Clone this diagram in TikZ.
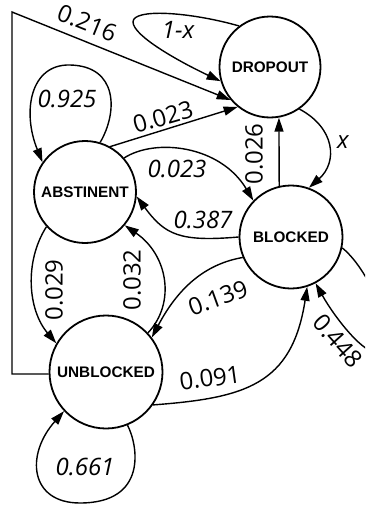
\documentclass[tikz,border=0pt]{standalone}
\usepackage{fontspec}
\setmainfont{Open Sans}
\newfontfamily\statefont{Liberation Sans}
\usetikzlibrary{arrows.meta}
\begin{document}
\begin{tikzpicture}[x=1pt,y=-1pt,
  state/.style={circle,draw,line width=1.8pt,inner sep=0pt,font=\statefont\bfseries\fontsize{15.3}{18}\selectfont},
  edge/.style={line width=1.4pt,-{Triangle[length=14pt,width=9pt]}},
  lbl/.style={font=\fontsize{24}{28}\selectfont\itshape,inner sep=0pt},
  rlbl/.style={font=\fontsize{24}{28}\selectfont,inner sep=0pt}]
\clip (0,0) rectangle (365,506);
\node[state,minimum size=101pt] (D) at (270,67) {DROPOUT};
\node[state,minimum size=102pt] (A) at (85,192) {ABSTINENT};
\node[state,minimum size=103pt] (B) at (291,237) {BLOCKED};
\node[state,minimum size=113pt] (U) at (106,372) {UNBLOCKED};
\coordinate (corner) at (12,12);

% DROPOUT self loop
\draw[edge] (D.127) .. controls (190,12) and (133,8) .. (133,22) .. controls (133,36) and (180,62) .. (D.196);
% UNBLOCKED -> DROPOUT
\draw[edge,line join=miter] (U.182) -| (corner) -- (D.220);
% ABSTINENT self loop
\draw[edge] (A.73) .. controls (118,112) and (118,66) .. (70,65) .. controls (30,64) and (22,112) .. (A.145);
% ABSTINENT -> DROPOUT
\draw[edge] (A.61) -- (D.231);
% ABSTINENT -> BLOCKED
\draw[edge] (A.41) .. controls (155,138) and (220,145) .. (B.136);
% BLOCKED -> DROPOUT
\draw[edge] (B.103) -- (D.280);
% DROPOUT -> BLOCKED
\draw[edge] (D.305) .. controls (335,128) and (338,162) .. (B.70);
% BLOCKED -> ABSTINENT
\draw[edge] (B.180) .. controls (180,242) and (165,235) .. (A.355);
% BLOCKED -> UNBLOCKED
\draw[edge] (B.203) .. controls (205,264) and (178,288) .. (U.37);
% ABSTINENT -> UNBLOCKED
\draw[edge] (A.222) .. controls (24,262) and (28,310) .. (U.150);
% UNBLOCKED -> ABSTINENT
\draw[edge] (U.43) .. controls (176,303) and (168,255) .. (A.320);
% UNBLOCKED -> BLOCKED
\draw[edge] (U.325) .. controls (245,398) and (292,385) .. (B.288);
% UNBLOCKED self loop
\draw[edge] (U.292) .. controls (138,445) and (148,503) .. (80,503) .. controls (30,503) and (25,455) .. (U.223);
% BLOCKED self loop
\draw[edge] (B.348) .. controls (372,272) and (400,345) .. (378,352) .. controls (365,356) and (335,318) .. (B.298);

\node[lbl] (l1) at (178,30) {1-x};
\node[rlbl,rotate=-22] (l2) at (87,23) {0.216};
\node[lbl] (l3) at (67,99) {0.925};
\node[rlbl,rotate=16] (l4) at (163,117) {0.023};
\node[lbl] (l5) at (177,169) {0.023};
\node[rlbl,rotate=90] (l6) at (254,154) {0.026};
\node[lbl] (l7) at (343,142) {x};
\node[lbl] (l8) at (203,220) {0.387};
\node[rlbl,rotate=20] (l9) at (218,298) {0.139};
\node[rlbl,rotate=90] (l10) at (54,290) {0.029};
\node[rlbl,rotate=90] (l11) at (132,280) {0.032};
\node[rlbl,rotate=8] (l12) at (210,378) {0.091};
\node[lbl] (l13) at (85,467) {0.661};
\node[rlbl,rotate=-48] (l14) at (338,341) {0.448};
\end{tikzpicture}
\end{document}
